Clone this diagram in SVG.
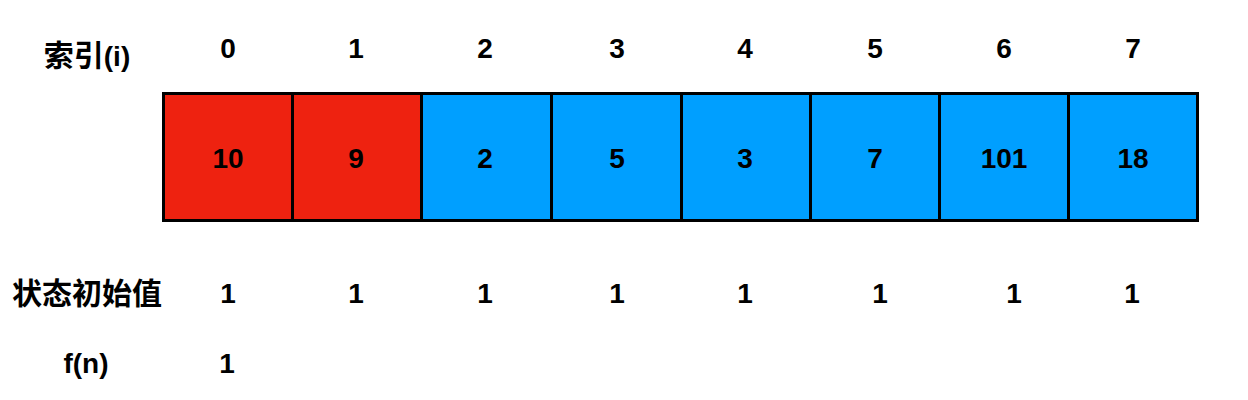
<svg xmlns="http://www.w3.org/2000/svg" width="1248" height="400" viewBox="0 0 1248 400">
<style>
.t{font-family:"Liberation Sans","Noto Sans CJK SC",Arial,sans-serif;font-weight:bold;font-size:28px;fill:#000;text-anchor:middle}
.c{font-family:"Noto Sans CJK SC","Liberation Sans",sans-serif;font-weight:bold;font-size:30px;fill:#000;text-anchor:middle}
.red{fill:#EE2210;stroke:#000;stroke-width:3}
.blue{fill:#009FFF;stroke:#000;stroke-width:3}
</style>
<rect width="1248" height="400" fill="#fff"/>
<g id="labels">
<text class="c" x="87" y="66">索引<tspan font-family="Liberation Sans, sans-serif" font-size="28">(i)</tspan></text>
<text class="c" x="87" y="304">状态初始值</text>
<text class="t" x="86" y="373">f(n)</text>
</g>
<g id="index">
<text class="t" x="228" y="58">0</text>
<text class="t" x="356" y="58">1</text>
<text class="t" x="485" y="58">2</text>
<text class="t" x="617" y="58">3</text>
<text class="t" x="745" y="58">4</text>
<text class="t" x="875" y="58">5</text>
<text class="t" x="1004" y="58">6</text>
<text class="t" x="1133" y="58">7</text>
</g>
<g id="cells">
<g id="cell0"><rect class="red" x="163.5" y="93.5" width="129" height="127"/><text class="t" x="228" y="168">10</text></g>
<g id="cell1"><rect class="red" x="292.5" y="93.5" width="129" height="127"/><text class="t" x="356" y="168">9</text></g>
<g id="cell2"><rect class="blue" x="421.5" y="93.5" width="130" height="127"/><text class="t" x="485" y="168">2</text></g>
<g id="cell3"><rect class="blue" x="551.5" y="93.5" width="130" height="127"/><text class="t" x="617" y="168">5</text></g>
<g id="cell4"><rect class="blue" x="681.5" y="93.5" width="129" height="127"/><text class="t" x="745" y="168">3</text></g>
<g id="cell5"><rect class="blue" x="810.5" y="93.5" width="129" height="127"/><text class="t" x="875" y="168">7</text></g>
<g id="cell6"><rect class="blue" x="939.5" y="93.5" width="129" height="127"/><text class="t" x="1004" y="168">101</text></g>
<g id="cell7"><rect class="blue" x="1068.5" y="93.5" width="129" height="127"/><text class="t" x="1133" y="168">18</text></g>
</g>
<g id="state">
<text class="t" x="228" y="303">1</text>
<text class="t" x="356" y="303">1</text>
<text class="t" x="485" y="303">1</text>
<text class="t" x="617" y="303">1</text>
<text class="t" x="745" y="303">1</text>
<text class="t" x="880" y="303">1</text>
<text class="t" x="1014" y="303">1</text>
<text class="t" x="1132" y="303">1</text>
</g>
<g id="fn">
<text class="t" x="227" y="373">1</text>
</g>
<g id="connectors"/>
</svg>
